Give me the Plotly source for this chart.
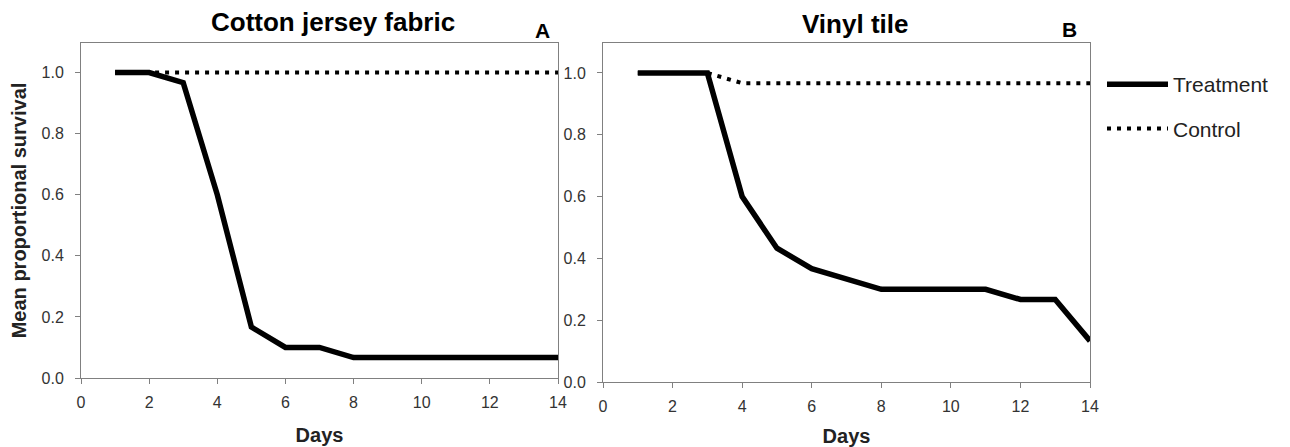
import plotly.graph_objects as go
from plotly.subplots import make_subplots

days = list(range(1, 15))
cotton_treatment = [1.0, 1.0, 0.967, 0.6, 0.167, 0.1, 0.1, 0.067, 0.067, 0.067, 0.067, 0.067, 0.067, 0.067]
cotton_control = [1.0] * 14
vinyl_treatment = [1.0, 1.0, 1.0, 0.6, 0.433, 0.367, 0.333, 0.3, 0.3, 0.3, 0.3, 0.267, 0.267, 0.133]
vinyl_control = [1.0, 1.0, 1.0, 0.967, 0.967, 0.967, 0.967, 0.967, 0.967, 0.967, 0.967, 0.967, 0.967, 0.967]
panel_titles = ["Cotton jersey fabric", "Vinyl tile"]
panel_letters = ["A", "B"]

FONT = "Liberation Sans, Arial, sans-serif"
OFF = 8  # default body margin of the html page
W, H = 1290 - OFF, 447 - OFF
L = 81 - OFF
R = W - (1090 - OFF)
T = 43 - OFF
B = H - (382 - OFF)
pw = W - L - R
ph = H - T - B


def px_x(p):
    return (p - OFF - L) / pw


def px_y(p):
    return (H - B - (p - OFF)) / ph


fig = make_subplots(rows=1, cols=2, horizontal_spacing=0.0)

fig.add_trace(go.Scatter(x=days, y=cotton_treatment, mode="lines", name="Treatment",
                         line=dict(color="black", width=5.5), legendgroup="t"), row=1, col=1)
fig.add_trace(go.Scatter(x=days, y=cotton_control, mode="lines", name="Control",
                         line=dict(color="black", width=4, dash="4px,6px"), legendgroup="c"), row=1, col=1)
fig.add_trace(go.Scatter(x=days, y=vinyl_treatment, mode="lines", name="Treatment", showlegend=False,
                         line=dict(color="black", width=5.5), legendgroup="t"), row=1, col=2)
fig.add_trace(go.Scatter(x=days, y=vinyl_control, mode="lines", name="Control", showlegend=False,
                         line=dict(color="black", width=4, dash="4px,6px"), legendgroup="c"), row=1, col=2)

axcommon = dict(showgrid=False, zeroline=False, showline=True, linecolor="#808080", linewidth=1,
                mirror=True, ticks="outside", ticklen=5, tickcolor="#808080", automargin=False,
                tickfont=dict(family=FONT, size=16, color="#333333"))

fig.update_xaxes(range=[0, 14], dtick=2, tick0=0, ticklabelstandoff=5, **axcommon)
fig.update_xaxes(domain=[0, px_x(558)], row=1, col=1)
fig.update_xaxes(domain=[px_x(603), 1], row=1, col=2)
for c in (1, 2):
    fig.update_xaxes(title=dict(text="<b>Days</b>", font=dict(family=FONT, size=20, color="#222222"),
                                standoff=17), row=1, col=c)
fig.update_yaxes(range=[0, 1.097], tickvals=[0, 0.2, 0.4, 0.6, 0.8, 1.0], tickformat=".1f",
                 ticklabelstandoff=8, **axcommon)
fig.update_yaxes(domain=[px_y(378), 1], row=1, col=1)
fig.update_yaxes(domain=[0, 1], row=1, col=2)
fig.update_yaxes(title=dict(text="<b>Mean proportional survival</b>",
                            font=dict(family=FONT, size=20, color="#222222"), standoff=12), row=1, col=1)

ann = []
title_pos = [(333, 22), (855, 24)]
letter_pos = [(542, 30), (1069, 29)]
for i in range(2):
    ann.append(dict(text="<b>" + panel_titles[i] + "</b>", x=px_x(title_pos[i][0]), y=px_y(title_pos[i][1]),
                    xref="paper", yref="paper", showarrow=False, xanchor="center", yanchor="middle",
                    font=dict(family=FONT, size=26, color="black")))
    ann.append(dict(text="<b>" + panel_letters[i] + "</b>", x=px_x(letter_pos[i][0]), y=px_y(letter_pos[i][1]),
                    xref="paper", yref="paper", showarrow=False, xanchor="center", yanchor="middle",
                    font=dict(family=FONT, size=21, color="black")))

fig.update_layout(
    width=W, height=H,
    margin=dict(l=L, r=R, t=T, b=B),
    plot_bgcolor="white", paper_bgcolor="white",
    annotations=ann,
    legend=dict(x=px_x(1102), y=px_y(64), xanchor="left", yanchor="top",
                font=dict(family=FONT, size=21, color="#222222"), traceorder="grouped",
                tracegroupgap=14, itemwidth=61, bgcolor="rgba(0,0,0,0)"),
)

fig.write_html("out.html")
